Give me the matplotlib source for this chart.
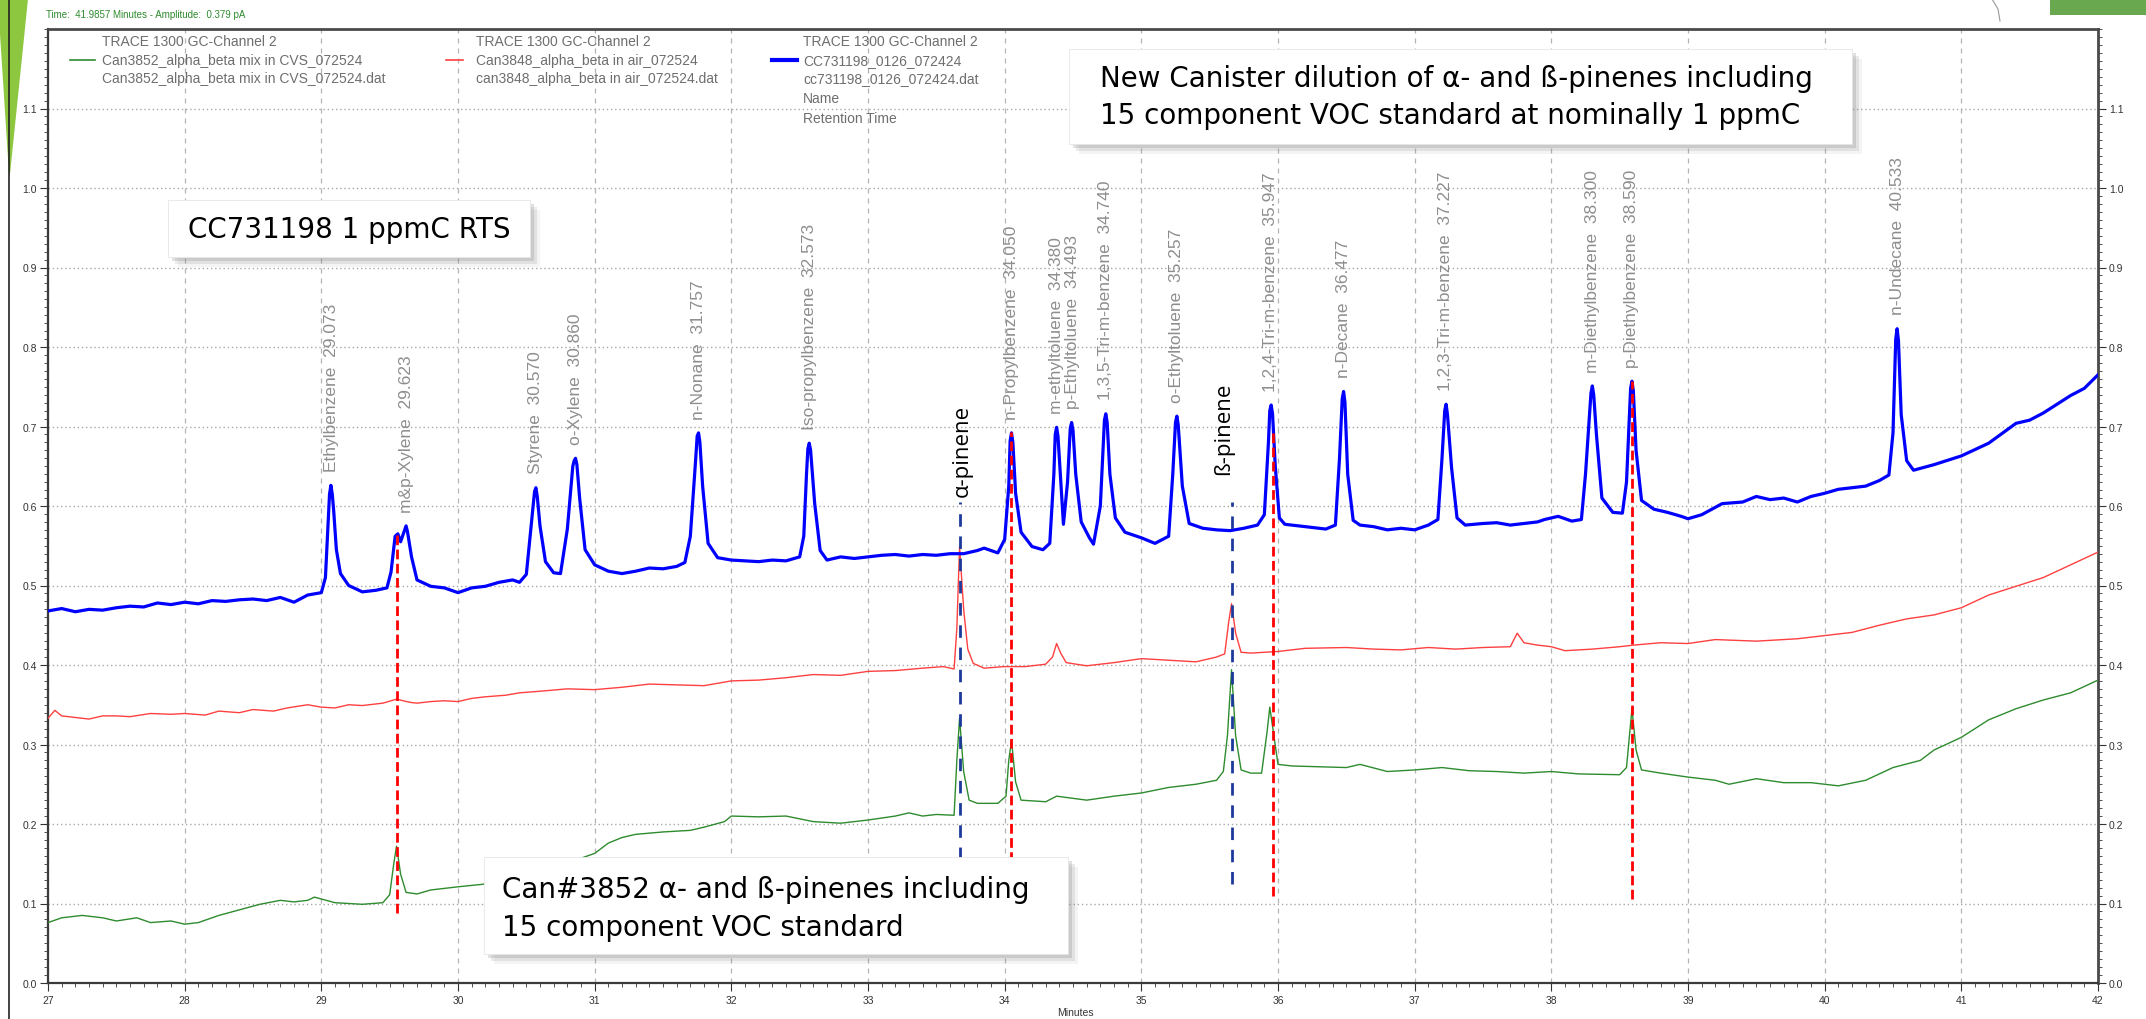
import numpy as np
import matplotlib.pyplot as plt
from matplotlib.patches import Rectangle, Polygon
from matplotlib.lines import Line2D
from matplotlib.ticker import MultipleLocator

W, H, DPI = 2146, 1020, 100

# ---- traces (minutes, pA) ----
BLUE_T = [27.00, 27.10, 27.20, 27.30, 27.40, 27.50, 27.60, 27.70, 27.80, 27.90,
          28.00, 28.10, 28.20, 28.30, 28.40, 28.50, 28.60, 28.70, 28.80, 28.90,
          29.00, 29.03, 29.05, 29.06, 29.07, 29.08, 29.09, 29.11, 29.14, 29.20,
          29.30, 29.40, 29.48, 29.51, 29.54, 29.56, 29.58, 29.61, 29.62, 29.63,
          29.66, 29.70, 29.80, 29.90, 30.00, 30.10, 30.20, 30.30, 30.40, 30.45,
          30.50, 30.55, 30.56, 30.57, 30.58, 30.60, 30.64, 30.70, 30.75, 30.80,
          30.84, 30.85, 30.86, 30.87, 30.89, 30.93, 31.00, 31.10, 31.20, 31.30,
          31.40, 31.50, 31.60, 31.66, 31.70, 31.74, 31.75, 31.76, 31.77, 31.79,
          31.83, 31.90, 32.00, 32.10, 32.20, 32.30, 32.40, 32.50, 32.53, 32.55,
          32.56, 32.57, 32.58, 32.61, 32.65, 32.70, 32.80, 32.90, 33.00, 33.10,
          33.20, 33.30, 33.40, 33.50, 33.60, 33.70, 33.80, 33.85, 33.95, 34.00,
          34.03, 34.04, 34.05, 34.06, 34.08, 34.12, 34.20, 34.28, 34.33, 34.36,
          34.37, 34.38, 34.39, 34.40, 34.43, 34.46, 34.48, 34.49, 34.50, 34.52,
          34.56, 34.62, 34.65, 34.70, 34.73, 34.74, 34.75, 34.77, 34.81, 34.88,
          35.00, 35.10, 35.20, 35.23, 35.25, 35.26, 35.27, 35.30, 35.35, 35.45,
          35.55, 35.65, 35.75, 35.85, 35.90, 35.93, 35.94, 35.95, 35.96, 35.98,
          36.01, 36.05, 36.20, 36.35, 36.42, 36.45, 36.47, 36.48, 36.49, 36.51,
          36.55, 36.60, 36.70, 36.80, 36.90, 37.00, 37.10, 37.17, 37.20, 37.22,
          37.23, 37.24, 37.27, 37.31, 37.37, 37.50, 37.60, 37.70, 37.80, 37.90,
          37.95, 38.05, 38.15, 38.22, 38.25, 38.29, 38.30, 38.31, 38.33, 38.37,
          38.45, 38.52, 38.55, 38.58, 38.59, 38.60, 38.62, 38.66, 38.75, 38.85,
          38.95, 39.00, 39.10, 39.25, 39.40, 39.50, 39.60, 39.70, 39.80, 39.90,
          40.00, 40.10, 40.20, 40.30, 40.40, 40.47, 40.50, 40.52, 40.53, 40.54,
          40.56, 40.60, 40.65, 40.80, 41.00, 41.20, 41.40, 41.50, 41.60, 41.80,
          41.90, 42.00]
BLUE_Y = [0.468, 0.471, 0.467, 0.470, 0.469, 0.472, 0.474, 0.473, 0.478, 0.476,
          0.479, 0.477, 0.481, 0.480, 0.482, 0.483, 0.481, 0.485, 0.479, 0.488,
          0.491, 0.510, 0.580, 0.615, 0.626, 0.615, 0.595, 0.545, 0.515, 0.500,
          0.492, 0.494, 0.497, 0.517, 0.562, 0.565, 0.555, 0.570, 0.575, 0.568,
          0.536, 0.507, 0.499, 0.497, 0.491, 0.497, 0.499, 0.504, 0.507, 0.504,
          0.514, 0.600, 0.618, 0.623, 0.612, 0.575, 0.530, 0.516, 0.515, 0.571,
          0.650, 0.657, 0.660, 0.652, 0.610, 0.545, 0.526, 0.518, 0.515, 0.518,
          0.522, 0.521, 0.524, 0.529, 0.562, 0.661, 0.688, 0.692, 0.680, 0.625,
          0.553, 0.535, 0.532, 0.531, 0.530, 0.532, 0.531, 0.536, 0.562, 0.640,
          0.672, 0.679, 0.670, 0.603, 0.544, 0.532, 0.536, 0.534, 0.536, 0.538,
          0.539, 0.537, 0.539, 0.538, 0.540, 0.540, 0.544, 0.547, 0.541, 0.558,
          0.625, 0.682, 0.692, 0.680, 0.616, 0.567, 0.549, 0.545, 0.553, 0.640,
          0.690, 0.699, 0.688, 0.660, 0.577, 0.630, 0.698, 0.705, 0.695, 0.640,
          0.580, 0.560, 0.552, 0.600, 0.708, 0.716, 0.705, 0.640, 0.585, 0.567,
          0.560, 0.553, 0.562, 0.640, 0.705, 0.713, 0.702, 0.625, 0.578, 0.572,
          0.570, 0.569, 0.572, 0.576, 0.589, 0.680, 0.720, 0.727, 0.716, 0.650,
          0.585, 0.577, 0.574, 0.571, 0.576, 0.660, 0.735, 0.744, 0.730, 0.640,
          0.582, 0.576, 0.574, 0.570, 0.572, 0.570, 0.576, 0.583, 0.660, 0.720,
          0.728, 0.715, 0.648, 0.585, 0.576, 0.578, 0.579, 0.576, 0.578, 0.580,
          0.583, 0.587, 0.581, 0.583, 0.640, 0.742, 0.751, 0.740, 0.690, 0.610,
          0.592, 0.591, 0.630, 0.748, 0.757, 0.745, 0.670, 0.607, 0.596, 0.592,
          0.587, 0.584, 0.589, 0.603, 0.605, 0.612, 0.608, 0.610, 0.605, 0.612,
          0.616, 0.621, 0.623, 0.625, 0.632, 0.639, 0.692, 0.810, 0.823, 0.808,
          0.715, 0.657, 0.645, 0.652, 0.663, 0.679, 0.704, 0.708, 0.717, 0.739,
          0.748, 0.765]

RED_T = [27.00, 27.05, 27.10, 27.20, 27.30, 27.40, 27.50, 27.60, 27.75, 27.90,
         28.00, 28.15, 28.25, 28.40, 28.50, 28.65, 28.75, 28.90, 29.00, 29.10,
         29.20, 29.30, 29.45, 29.55, 29.65, 29.70, 29.80, 29.90, 30.00, 30.10,
         30.20, 30.35, 30.45, 30.60, 30.80, 31.00, 31.20, 31.40, 31.60, 31.80,
         32.00, 32.20, 32.40, 32.60, 32.80, 33.00, 33.20, 33.40, 33.55, 33.63,
         33.65, 33.67, 33.70, 33.73, 33.77, 33.85, 34.00, 34.15, 34.30, 34.35,
         34.38, 34.41, 34.45, 34.60, 34.80, 35.00, 35.20, 35.40, 35.55, 35.61,
         35.64, 35.66, 35.69, 35.73, 35.80, 36.00, 36.20, 36.50, 36.70, 36.90,
         37.10, 37.30, 37.50, 37.70, 37.75, 37.80, 37.90, 38.00, 38.10, 38.30,
         38.50, 38.60, 38.80, 39.00, 39.20, 39.50, 39.80, 40.00, 40.20, 40.40,
         40.60, 40.80, 41.00, 41.20, 41.40, 41.60, 41.80, 42.00]
RED_Y = [0.333, 0.343, 0.336, 0.334, 0.332, 0.336, 0.336, 0.335, 0.339, 0.338,
         0.339, 0.337, 0.342, 0.340, 0.344, 0.342, 0.346, 0.350, 0.347, 0.346,
         0.350, 0.349, 0.352, 0.357, 0.353, 0.352, 0.354, 0.355, 0.354, 0.358,
         0.360, 0.362, 0.365, 0.367, 0.370, 0.369, 0.372, 0.376, 0.375, 0.374,
         0.380, 0.381, 0.384, 0.388, 0.387, 0.392, 0.393, 0.396, 0.398, 0.395,
         0.446, 0.549, 0.470, 0.420, 0.402, 0.396, 0.398, 0.398, 0.401, 0.410,
         0.427, 0.415, 0.403, 0.399, 0.403, 0.408, 0.406, 0.404, 0.410, 0.414,
         0.455, 0.477, 0.440, 0.416, 0.415, 0.417, 0.421, 0.422, 0.420, 0.419,
         0.422, 0.420, 0.422, 0.423, 0.440, 0.428, 0.425, 0.423, 0.418, 0.420,
         0.423, 0.425, 0.428, 0.427, 0.432, 0.430, 0.433, 0.437, 0.441, 0.450,
         0.458, 0.463, 0.472, 0.488, 0.499, 0.510, 0.526, 0.542]

GREEN_T = [27.00, 27.10, 27.25, 27.40, 27.50, 27.65, 27.75, 27.90, 28.00, 28.10,
           28.25, 28.40, 28.55, 28.70, 28.80, 28.90, 28.95, 29.10, 29.30, 29.45,
           29.50, 29.53, 29.55, 29.58, 29.62, 29.70, 29.80, 30.00, 30.17, 30.40,
           30.70, 31.00, 31.10, 31.20, 31.30, 31.50, 31.70, 31.80, 31.95, 32.00,
           32.20, 32.40, 32.60, 32.80, 33.00, 33.20, 33.30, 33.40, 33.50, 33.63,
           33.65, 33.67, 33.70, 33.74, 33.80, 33.95, 34.01, 34.03, 34.05, 34.08,
           34.12, 34.30, 34.38, 34.60, 34.80, 35.00, 35.20, 35.40, 35.55, 35.60,
           35.63, 35.66, 35.69, 35.73, 35.80, 35.88, 35.92, 35.94, 35.97, 36.00,
           36.10, 36.30, 36.50, 36.60, 36.80, 37.00, 37.20, 37.40, 37.60, 37.80,
           38.00, 38.20, 38.50, 38.55, 38.59, 38.62, 38.66, 38.80, 39.00, 39.20,
           39.30, 39.50, 39.70, 39.90, 40.10, 40.30, 40.50, 40.70, 40.80, 41.00,
           41.20, 41.40, 41.60, 41.80, 42.00]
GREEN_Y = [0.076, 0.082, 0.085, 0.082, 0.078, 0.082, 0.076, 0.078, 0.074, 0.076,
           0.085, 0.092, 0.099, 0.104, 0.102, 0.104, 0.108, 0.101, 0.099, 0.101,
           0.111, 0.150, 0.172, 0.137, 0.114, 0.112, 0.117, 0.121, 0.124, 0.128,
           0.145, 0.163, 0.176, 0.183, 0.187, 0.190, 0.192, 0.196, 0.203, 0.210,
           0.209, 0.210, 0.203, 0.201, 0.205, 0.210, 0.214, 0.210, 0.212, 0.211,
           0.280, 0.333, 0.266, 0.230, 0.226, 0.226, 0.235, 0.280, 0.305, 0.253,
           0.230, 0.228, 0.235, 0.230, 0.235, 0.239, 0.246, 0.250, 0.255, 0.266,
           0.311, 0.394, 0.311, 0.268, 0.264, 0.264, 0.316, 0.347, 0.311, 0.275,
           0.273, 0.272, 0.271, 0.275, 0.266, 0.268, 0.271, 0.267, 0.266, 0.264,
           0.266, 0.263, 0.262, 0.271, 0.345, 0.293, 0.268, 0.264, 0.259, 0.255,
           0.250, 0.257, 0.252, 0.252, 0.248, 0.255, 0.271, 0.280, 0.293, 0.309,
           0.331, 0.345, 0.356, 0.365, 0.381]

# ---- peak identification on the reference trace ----
PEAK_NAMES = ["Ethylbenzene", "m&p-Xylene", "Styrene", "o-Xylene", "n-Nonane",
              "Iso-propylbenzene", "n-Propylbenzene", "m-ethyltoluene",
              "p-Ethyltoluene", "1,3,5-Tri-m-benzene", "o-Ethyltoluene",
              "1,2,4-Tri-m-benzene", "n-Decane", "1,2,3-Tri-m-benzene",
              "m-Diethylbenzene", "p-Diethylbenzene", "n-Undecane"]
PEAK_RT = [29.073, 29.623, 30.570, 30.860, 31.757, 32.573, 34.050, 34.380,
           34.493, 34.740, 35.257, 35.947, 36.477, 37.227, 38.300, 38.590, 40.533]

# marker lines (x, top, bottom)
RED_MARK_X = [29.55, 34.05, 35.96, 38.59]
RED_MARK_TOP = [0.569, 0.693, 0.692, 0.757]
RED_MARK_BOT = [0.088, 0.10, 0.109, 0.106]
BLUE_MARK_X = [33.67, 35.66]
BLUE_MARK_TOP = [0.605, 0.605]
BLUE_MARK_BOT = [0.10, 0.125]

LEGEND_HEAD = "TRACE 1300 GC-Channel 2"
LEGEND_NAMES = ["Can3852_alpha_beta mix in CVS_072524",
                "Can3848_alpha_beta in air_072524",
                "CC731198_0126_072424"]
LEGEND_FILES = ["Can3852_alpha_beta mix in CVS_072524.dat",
                "can3848_alpha_beta in air_072524.dat",
                "cc731198_0126_072424.dat"]

C_BLUE, C_RED, C_GREEN = "#0000ff", "#ff4040", "#2e8b2e"
GRAY_TXT = "#6e6e6e"


def fx(x):
    return x / W


def fy(y):
    return 1 - y / H


def text_box(fig, x0, y0, x1, y1, lines, ys, xt, size=20, family="DejaVu Sans"):
    # soft drop shadow, then white box, then text
    for off, a in [(10, 0.08), (7, 0.15), (4, 0.22)]:
        fig.add_artist(Rectangle((fx(x0 + off), fy(y1 + off)), (x1 - x0) / W,
                                 (y1 - y0) / H, transform=fig.transFigure,
                                 facecolor="#7a7a7a", edgecolor="none",
                                 alpha=a, zorder=9))
    fig.add_artist(Rectangle((fx(x0), fy(y1)), (x1 - x0) / W, (y1 - y0) / H,
                             transform=fig.transFigure, facecolor="white",
                             edgecolor="#e6e6e6", lw=0.6, zorder=10))
    for s, yy in zip(lines, ys):
        fig.text(fx(xt), fy(yy), s, fontsize=size, family=family, color="black",
                 ha="left", va="center", zorder=11)


fig = plt.figure(figsize=(W / DPI, H / DPI), dpi=DPI)
ax = fig.add_axes([fx(48), fy(984), 2050 / W, 954 / H])

ax.plot(GREEN_T, GREEN_Y, color=C_GREEN, lw=1.0, zorder=3)
ax.plot(RED_T, RED_Y, color=C_RED, lw=1.0, zorder=3)
ax.plot(BLUE_T, BLUE_Y, color=C_BLUE, lw=2.3, zorder=4)

for x, t, b in zip(BLUE_MARK_X, BLUE_MARK_TOP, BLUE_MARK_BOT):
    ax.plot([x, x], [b, t], color="#1c3a9a", lw=2.0, dashes=(4.5, 3.5), zorder=5)
for x, t, b in zip(RED_MARK_X, RED_MARK_TOP, RED_MARK_BOT):
    ax.plot([x, x], [b, t], color="#ff0000", lw=2.0, dashes=(3.5, 1.6), zorder=6)

# peak labels sit just above the blue apex
bt, by = np.array(BLUE_T), np.array(BLUE_Y)
for name, rt in zip(PEAK_NAMES, PEAK_RT):
    top = by[np.abs(bt - rt) <= 0.04].max()
    ax.text(rt, top + 0.018, f"{name}  {rt:.3f}", rotation=90, ha="center",
            va="bottom", fontsize=12.5, color="#8e8e8e", family="Liberation Sans",
            zorder=7)

ax.text(33.69, 0.612, "α-pinene", rotation=90, ha="center", va="bottom",
        fontsize=16, color="black", family="Open Sans", zorder=7)
ax.text(35.60, 0.640, "ß-pinene", rotation=90, ha="center", va="bottom",
        fontsize=16, color="black", family="Open Sans", zorder=7)

ax.set_xlim(27, 42)
ax.set_ylim(0, 1.2)
ax.xaxis.set_major_locator(MultipleLocator(1))
ax.xaxis.set_minor_locator(MultipleLocator(0.1))
ax.yaxis.set_minor_locator(MultipleLocator(0.01))
ax.set_yticks(np.round(np.arange(0, 1.15, 0.1), 1))
ax.set_yticklabels([f"{v:.1f}" for v in np.arange(0, 1.15, 0.1)])
ax.tick_params(axis="y", which="both", left=True, right=True, labelleft=True,
               labelright=True, direction="out", labelsize=7.5,
               labelcolor="#333333", color="#333333", pad=2)
ax.tick_params(axis="y", which="major", length=6)
ax.tick_params(axis="y", which="minor", length=3, width=0.6)
ax.tick_params(axis="x", which="both", direction="out", labelsize=7.5,
               labelcolor="#333333", color="#333333", pad=3)
ax.tick_params(axis="x", which="major", length=6)
ax.tick_params(axis="x", which="minor", length=3, width=0.6)
for lab in ax.get_xticklabels() + ax.get_yticklabels():
    lab.set_family("Liberation Sans")

ax.grid(axis="y", which="major", linestyle=(0, (1, 2)), color="#a8a8a8", lw=1.0)
ax.grid(axis="x", which="major", linestyle=(0, (4, 4)), color="#b4b4b4", lw=0.9)
ax.set_axisbelow(True)
for side in ["left", "bottom"]:
    ax.spines[side].set_color("#3a3a3a")
    ax.spines[side].set_linewidth(1.6)
for side in ["top", "right"]:
    ax.spines[side].set_color("#4a4a4a")
    ax.spines[side].set_linewidth(2.0)

# legend block drawn like the chromatography software
legend_x = [(70, 95, 102), (446, 463, 476), (772, 797, 803)]
for (l0, l1, tx), col, lw, nm, fn in zip(legend_x, [C_GREEN, C_RED, C_BLUE],
                                         [1.2, 1.2, 3.0], LEGEND_NAMES, LEGEND_FILES):
    fig.text(fx(tx), fy(42), LEGEND_HEAD, fontsize=10, color=GRAY_TXT,
             family="Liberation Sans", va="center")
    fig.add_artist(Line2D([fx(l0), fx(l1)], [fy(61), fy(61)], color=col, lw=lw,
                          transform=fig.transFigure))
    fig.text(fx(tx), fy(61), nm, fontsize=10, color=GRAY_TXT,
             family="Liberation Sans", va="center")
    fig.text(fx(tx), fy(79), fn, fontsize=10, color=GRAY_TXT,
             family="Liberation Sans", va="center")
fig.text(fx(803), fy(99), "Name", fontsize=10, color=GRAY_TXT,
         family="Liberation Sans", va="center")
fig.text(fx(803), fy(119), "Retention Time", fontsize=10, color=GRAY_TXT,
         family="Liberation Sans", va="center")

fig.text(fx(46), fy(15), "Time:  41.9857 Minutes - Amplitude:  0.379 pA",
         fontsize=7, color="#2e8b2e", family="Liberation Sans", va="center")
fig.text(fx(1075), fy(1013), "Minutes", fontsize=7.5, color="#333333",
         family="Liberation Sans", ha="center", va="center")

# annotation boxes
text_box(fig, 1069, 50, 1852, 145,
         ["New Canister dilution of α- and ß-pinenes including",
          "15 component VOC standard at nominally 1 ppmC"], [79, 116], 1100)
text_box(fig, 168, 201, 530, 258, ["CC731198 1 ppmC RTS"], [230], 188)
text_box(fig, 484, 858, 1068, 955,
         ["Can#3852 α- and ß-pinenes including", "15 component VOC standard"],
         [890, 928], 502)

# slide decoration
fig.add_artist(Polygon([(fx(0), fy(0)), (fx(28), fy(0)), (fx(10), fy(175)),
                        (fx(9), fy(175)), (fx(0), fy(35))], closed=True,
                       transform=fig.transFigure, facecolor="#8dc63f",
                       edgecolor="none", zorder=12))
fig.add_artist(Line2D([fx(9), fx(9)], [fy(0), fy(1020)], color="#222222", lw=1.2,
                      transform=fig.transFigure, zorder=13))
fig.add_artist(Rectangle((fx(2050), fy(16)), 96 / W, 16 / H,
                         transform=fig.transFigure, facecolor="#6aa84f",
                         edgecolor="none", zorder=12))
fig.add_artist(Line2D([fx(1992), fx(1998), fx(2000)], [fy(0), fy(10), fy(22)],
                      color="#9a9a9a", lw=0.8, transform=fig.transFigure,
                      zorder=12))

fig.savefig("out.png", dpi=DPI)
